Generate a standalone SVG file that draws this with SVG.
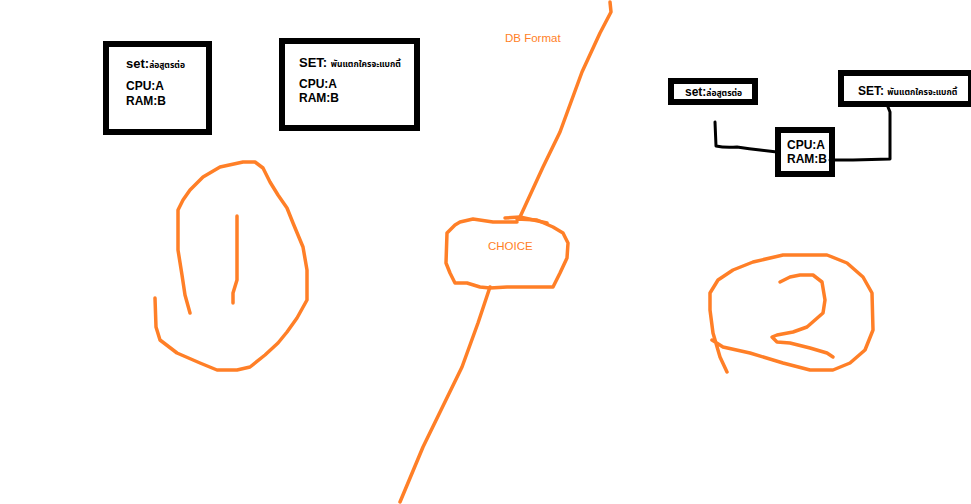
<svg xmlns="http://www.w3.org/2000/svg" width="971" height="504" viewBox="0 0 971 504">
<style>
.box{fill:#fff;stroke:#000;stroke-width:6}
.t{font-family:"Liberation Sans",Arial,sans-serif;font-weight:bold;fill:#000;font-size:12px}
.s{font-size:13px}
.th{font-family:"Noto Sans Thai","Noto Sans","DejaVu Sans",sans-serif;font-size:8.5px;font-weight:bold}
.o{fill:none;stroke:#FF7F27;stroke-width:3.5;stroke-linecap:round;stroke-linejoin:round}
.k{fill:none;stroke:#000;stroke-width:3;stroke-linecap:round;stroke-linejoin:round}
.ot{font-family:"Liberation Sans",Arial,sans-serif;fill:#FF7F27;font-size:11.5px}
</style>
<rect width="971" height="504" fill="#fff"/>
<g id="box-set1">
<rect class="box" x="106" y="44" width="103" height="88"/>
<text class="t s" x="126" y="68">set:<tspan class="th">ล่อสูตรต่อ</tspan></text>
<text class="t" x="126" y="90">CPU:A</text>
<text class="t" x="126" y="105">RAM:B</text>
</g>
<g id="box-set2">
<rect class="box" x="282" y="41" width="135" height="87"/>
<text class="t s" x="299" y="67">SET: <tspan class="th">พันแตกใครจะแบกตี้</tspan></text>
<text class="t" x="299" y="88">CPU:A</text>
<text class="t" x="299" y="102">RAM:B</text>
</g>
<g id="box-set3">
<rect class="box" x="671" y="81" width="84" height="21"/>
<text class="t" x="685" y="96">set:<tspan class="th">ล่อสูตรต่อ</tspan></text>
</g>
<g id="box-set4">
<rect class="box" x="841" y="73" width="130" height="31"/>
<text class="t" x="858" y="95">SET: <tspan class="th">พันแตกใครจะแบกตี้</tspan></text>
</g>
<g id="box-cpu">
<rect class="box" x="778" y="130" width="54" height="44"/>
<text class="t" x="787" y="149">CPU:A</text>
<text class="t" x="787" y="163">RAM:B</text>
</g>
<g id="connectors">
<path class="k" d="M715,122 L716,146 Q725,148 737,147 Q750,149 760,150 L777,152"/>
<path class="k" d="M830,160 L853,160 L890,159 L890,112 L888,107"/>
</g>
<g id="label-db">
<text class="ot" x="505" y="42">DB Format</text>
</g>
<g id="divider">
<path class="o" d="M610,2 L611,12 L600,33 L582,72 L560,132 L543,167 L520,217"/>
<path class="o" d="M490,287 L478,323 L462,367 L442,408 L423,447 L400,502"/>
</g>
<g id="choice">
<path class="o" d="M505,218 L520,217 L547,223"/>
<path class="o" d="M517,222 L493,222 L473,219 L460,222 L455,225 L447,233 L446,263 L450,273 L455,283 L467,283 L480,287 L490,288 L507,287 L553,287 L560,273 L567,258 L568,243 L563,233 L553,227 L537,220 L517,219"/>
<text class="ot" x="488" y="250">CHOICE</text>
</g>
<g id="mark-1">
<path class="o" d="M190,313 L185,295 L182,275 L178,250 L178,210 L183,200 L190,190 L203,177 L220,167 L243,162 L255,162 L263,168 L270,182 L278,195 L287,208 L293,223 L303,247 L307,270 L307,300 L297,318 L287,332 L278,343 L265,355 L250,367 L237,370 L217,370 L200,363 L177,353 L160,340 L156,327 L155,298"/>
<path class="o" d="M237,216 L237,280 L233,293 L233,303"/>
</g>
<g id="mark-2">
<path class="o" d="M727,372 L720,357 L713,333 L710,310 L710,293 L718,280 L733,270 L753,262 L783,255 L827,255 L847,263 L863,277 L872,293 L873,330 L865,350 L850,363 L833,370 L810,370 L783,363 L750,353 L723,347 L712,340"/>
<path class="o" d="M780,282 L790,277 L800,275 L813,275 L822,282 L825,300 L823,313 L807,327 L793,332 L777,335 L772,337 L777,342 L790,343 L810,348 L827,353 L833,357"/>
</g>
</svg>
